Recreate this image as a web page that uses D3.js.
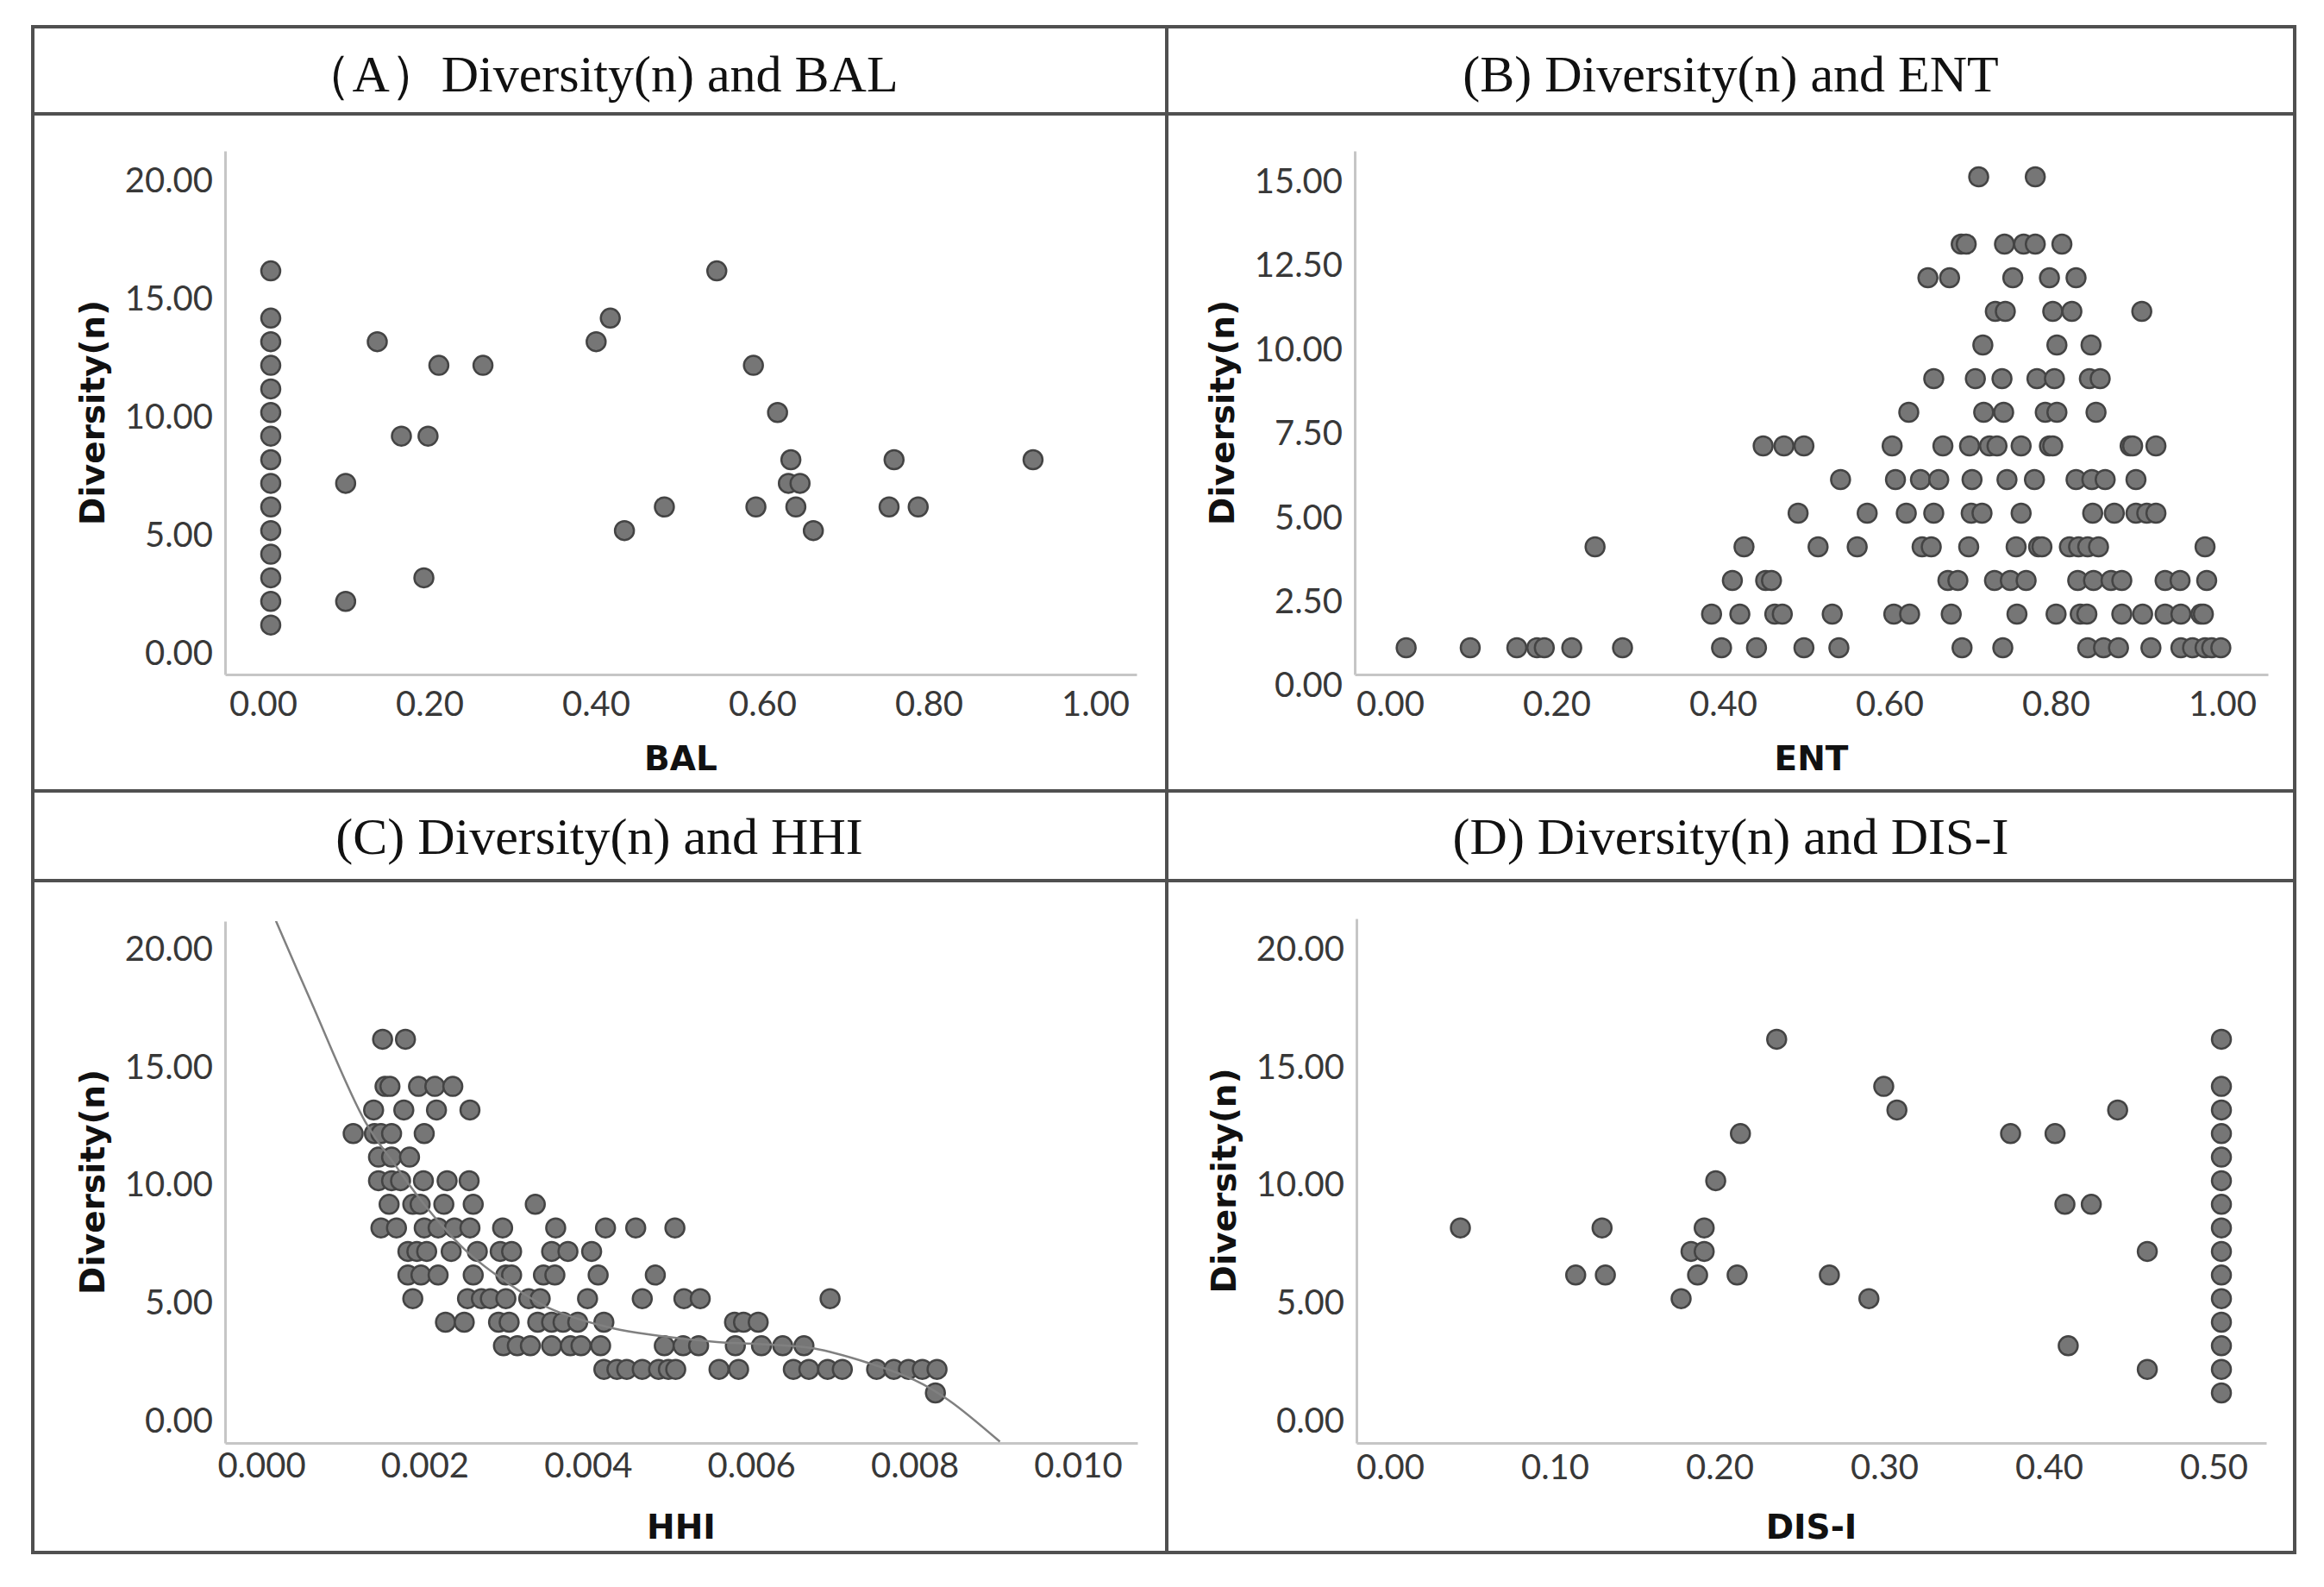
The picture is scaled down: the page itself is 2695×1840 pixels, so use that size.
<!DOCTYPE html>
<html>
<head>
<meta charset="utf-8">
<script src="https://cdn.jsdelivr.net/npm/d3@7"></script>
<style>
  body { margin: 0; background: #fff; }
</style>
</head>
<body>
<svg id="chart" width="2695" height="1840"></svg>
<script>
// DATA
const titles = ['（A）Diversity(n) and BAL', '(B) Diversity(n) and ENT', '(C) Diversity(n) and HHI', '(D) Diversity(n) and DIS-I'];
const xLabels = ['BAL', 'ENT', 'HHI', 'DIS-I'];
const yLabel = 'Diversity(n)';

const yTicks20 = [0, 5, 10, 15, 20];
const yTicks15 = [0, 2.5, 5, 7.5, 10, 12.5, 15];
const xTicksUnit = [0, 0.2, 0.4, 0.6, 0.8, 1.0];
const xTicksHHI = [0, 0.002, 0.004, 0.006, 0.008, 0.010];
const xTicksDIS = [0, 0.1, 0.2, 0.3, 0.4, 0.5];

const balPoints = [
  [0, 1], [0, 2], [0, 3], [0, 4], [0, 5], [0, 6], [0, 7], [0, 8], [0, 9], [0, 10],
  [0, 11], [0, 12], [0, 13], [0, 14], [0, 16],
  [0.090, 7], [0.090, 2], [0.128, 13], [0.157, 9], [0.189, 9], [0.184, 3], [0.202, 12],
  [0.255, 12], [0.391, 13], [0.408, 14], [0.425, 5], [0.473, 6], [0.536, 16], [0.580, 12],
  [0.609, 10], [0.625, 8], [0.622, 7], [0.636, 7], [0.583, 6], [0.631, 6], [0.652, 5],
  [0.749, 8], [0.743, 6], [0.778, 6], [0.916, 8]
];

const entLevels = [15, 13, 12, 11, 10, 9, 8, 7, 6, 5, 4, 3, 2, 1];
const entValues = [
  [0.698, 0.766],
  [0.677, 0.683, 0.729, 0.752, 0.766, 0.798],
  [0.637, 0.663, 0.739, 0.783, 0.815],
  [0.718, 0.730, 0.787, 0.810, 0.894],
  [0.703, 0.792, 0.833],
  [0.644, 0.694, 0.726, 0.768, 0.789, 0.831, 0.844],
  [0.614, 0.704, 0.728, 0.778, 0.792, 0.839],
  [0.439, 0.464, 0.488, 0.594, 0.655, 0.687, 0.711, 0.720, 0.749, 0.783, 0.787, 0.880, 0.883, 0.911],
  [0.532, 0.598, 0.628, 0.650, 0.690, 0.732, 0.765, 0.815, 0.834, 0.850, 0.887],
  [0.481, 0.564, 0.611, 0.644, 0.689, 0.702, 0.749, 0.835, 0.861, 0.887, 0.900, 0.911],
  [0.237, 0.416, 0.505, 0.552, 0.630, 0.641, 0.686, 0.743, 0.770, 0.774, 0.807, 0.818, 0.829, 0.842, 0.970],
  [0.402, 0.442, 0.449, 0.661, 0.673, 0.717, 0.736, 0.755, 0.817, 0.836, 0.857, 0.870, 0.922, 0.940, 0.972],
  [0.377, 0.411, 0.453, 0.462, 0.522, 0.596, 0.615, 0.665, 0.744, 0.791, 0.820, 0.828, 0.870, 0.895, 0.922, 0.941, 0.965, 0.968],
  [0.010, 0.087, 0.143, 0.167, 0.176, 0.209, 0.270, 0.389, 0.431, 0.488, 0.530, 0.678, 0.727, 0.829, 0.848, 0.866, 0.905, 0.941, 0.955, 0.970, 0.978, 0.989]
];

const hhiLevels = [16, 14, 13, 12, 11, 10, 9, 8, 7, 6, 5, 4, 3, 2, 1];
const hhiValues = [
  [0.00139, 0.00167],
  [0.00142, 0.00148, 0.00183, 0.00203, 0.00225],
  [0.00128, 0.00165, 0.00205, 0.00246],
  [0.00103, 0.00129, 0.00137, 0.00150, 0.00190],
  [0.00134, 0.00150, 0.00172],
  [0.00134, 0.00150, 0.00161, 0.00189, 0.00218, 0.00245],
  [0.00147, 0.00176, 0.00185, 0.00214, 0.00250, 0.00326],
  [0.00137, 0.00156, 0.00190, 0.00207, 0.00227, 0.00246, 0.00286, 0.00351, 0.00412, 0.00449, 0.00497],
  [0.00170, 0.00181, 0.00193, 0.00223, 0.00255, 0.00283, 0.00297, 0.00346, 0.00366, 0.00395],
  [0.00170, 0.00186, 0.00207, 0.00250, 0.00290, 0.00297, 0.00336, 0.00350, 0.00403, 0.00473],
  [0.00176, 0.00243, 0.00260, 0.00271, 0.00290, 0.00318, 0.00332, 0.00390, 0.00457, 0.00508, 0.00528, 0.00687],
  [0.00216, 0.00239, 0.00281, 0.00294, 0.00329, 0.00346, 0.00360, 0.00378, 0.00410, 0.00570, 0.00581, 0.00599],
  [0.00287, 0.00304, 0.00320, 0.00346, 0.00369, 0.00382, 0.00406, 0.00484, 0.00507, 0.00526, 0.00571, 0.00603, 0.00629, 0.00655],
  [0.00410, 0.00426, 0.00438, 0.00457, 0.00477, 0.00489, 0.00498, 0.00551, 0.00575, 0.00642, 0.00661, 0.00684, 0.00702, 0.00744, 0.00765, 0.00783, 0.00800, 0.00818],
  [0.00816]
];

// fit line
const hhiFitX = [0.000084, 0.000507, 0.001175, 0.001563, 0.001914, 0.002408, 0.002936, 0.003429, 0.004208, 0.004736, 0.005487, 0.006146, 0.006666, 0.00733, 0.0079, 0.00832, 0.00895];
const hhiFitY = [21.02, 17.65, 12.52, 10.57, 8.93, 7.04, 5.63, 4.60, 3.74, 3.44, 3.16, 3.05, 2.89, 2.28, 1.55, 0.70, -1.07];

const disPoints = [
  [0.50, 1], [0.50, 2], [0.50, 3], [0.50, 4], [0.50, 5], [0.50, 6], [0.50, 7], [0.50, 8],
  [0.50, 9], [0.50, 10], [0.50, 11], [0.50, 12], [0.50, 13], [0.50, 14], [0.50, 16],
  [0.038, 8], [0.124, 8], [0.108, 6], [0.126, 6], [0.172, 5], [0.178, 7], [0.186, 7],
  [0.186, 8], [0.182, 6], [0.193, 10], [0.208, 12], [0.206, 6], [0.230, 16], [0.262, 6],
  [0.286, 5], [0.295, 14], [0.303, 13], [0.372, 12], [0.399, 12], [0.405, 9], [0.421, 9],
  [0.407, 3], [0.437, 13], [0.455, 7], [0.455, 2]
];

function fromRows(levels, values) {
  const out = [];
  levels.forEach((lv, i) => values[i].forEach((v) => out.push([v, lv])));
  return out;
}

//SETUP
const svg = d3.select('#chart');
svg.append('rect').attr('width', 2695).attr('height', 1840).attr('fill', '#fff');

const panels = [
  { title: titles[0], xLabel: xLabels[0], points: balPoints, left: 261, right: 1318, top: 175, bottom: 782,
    xDomain: [-0.0549, 1.0404], yDomain: [-1.096, 21.08], xTicks: xTicksUnit, yTicks: yTicks20, xFmt: '.2f',
    cx: 695, titleY: 106, labelPad: 20, xTitleY: 893 },
  { title: titles[1], xLabel: xLabels[1], points: fromRows(entLevels, entValues), left: 1571, right: 2630, top: 175, bottom: 782,
    xDomain: [-0.0518, 1.0456], yDomain: [0.205, 15.77], xTicks: xTicksUnit, yTicks: yTicks15, xFmt: '.2f',
    cx: 2007, titleY: 106, labelPad: 20, xTitleY: 893 },
  { title: titles[2], xLabel: xLabels[2], points: fromRows(hhiLevels, hhiValues), left: 261, right: 1319, top: 1068, bottom: 1673,
    xDomain: [-0.000539, 0.010634], yDomain: [-1.123, 21.01], xTicks: xTicksHHI, yTicks: yTicks20, xFmt: '.3f',
    cx: 695, titleY: 990, labelPad: 12, xTitleY: 1784, fit: true },
  { title: titles[3], xLabel: xLabels[3], points: disPoints, left: 1573, right: 2628, top: 1065, bottom: 1673,
    xDomain: [-0.0251, 0.5272], yDomain: [-1.123, 21.12], xTicks: xTicksDIS, yTicks: yTicks20, xFmt: '.2f',
    cx: 2007, titleY: 990, labelPad: 14, xTitleY: 1784 }
];

panels.forEach((p, i) => drawPanel(p, i));

//FRAME
const frame = svg.append('g').attr('fill', 'none').attr('stroke', '#505050').attr('stroke-width', 4);
frame.append('rect').attr('x', 38).attr('y', 31).attr('width', 2623).attr('height', 1769);
frame.append('line').attr('x1', 1353).attr('x2', 1353).attr('y1', 31).attr('y2', 1800);
[132, 917, 1021].forEach((yy) => {
  frame.append('line').attr('x1', 38).attr('x2', 2661).attr('y1', yy).attr('y2', yy);
});

function drawPanel(p, i) {
  const g = svg.append('g');

  //SCALE AND AXIS
  const xScale = d3.scaleLinear().domain(p.xDomain).range([p.left, p.right]);
  const yScale = d3.scaleLinear().domain(p.yDomain).range([p.bottom, p.top]);

  const xAxis = d3.axisBottom(xScale)
    .tickValues(p.xTicks)
    .tickSize(0)
    .tickPadding(p.labelPad)
    .tickFormat(d3.format(p.xFmt));
  const xg = g.append('g').attr('transform', `translate(0,${p.bottom})`).call(xAxis);
  xg.selectAll('text').attr('dx', -9);

  const yAxis = d3.axisLeft(yScale)
    .tickValues(p.yTicks)
    .tickSize(0)
    .tickPadding(14)
    .tickFormat(d3.format('.2f'));
  const yg = g.append('g').attr('transform', `translate(${p.left},0)`).call(yAxis);
  yg.selectAll('text').attr('dy', '0.45em');

  [xg, yg].forEach((ax) => {
    ax.select('.domain').attr('stroke', '#c6c6c6').attr('stroke-width', 3);
    ax.selectAll('text')
      .style('font-family', 'Lato, "Open Sans", sans-serif')
      .style('font-size', '40px')
      .attr('fill', '#383838');
  });

  //POINTS
  g.append('g')
    .selectAll('circle')
    .data(p.points)
    .enter()
    .append('circle')
    .attr('cx', (d) => xScale(d[0]))
    .attr('cy', (d) => yScale(d[1]))
    .attr('r', 11)
    .attr('fill', '#767676')
    .attr('stroke', '#444')
    .attr('stroke-width', 2.5);

  //FIT LINE
  if (p.fit) {
    svg.append('clipPath').attr('id', 'clip' + i)
      .append('rect')
      .attr('x', p.left).attr('y', p.top)
      .attr('width', p.right - p.left).attr('height', p.bottom - p.top);
    const fit = d3.line()
      .x((d) => xScale(d[0]))
      .y((d) => yScale(d[1]))
      .curve(d3.curveCatmullRom);
    g.append('path')
      .attr('clip-path', `url(#clip${i})`)
      .attr('d', fit(hhiFitX.map((v, k) => [v, hhiFitY[k]])))
      .attr('fill', 'none')
      .attr('stroke', '#808080')
      .attr('stroke-width', 2.5);
  }

  //TEXT
  g.append('text')
    .attr('x', p.cx)
    .attr('y', p.titleY)
    .style('text-anchor', 'middle')
    .style('font-family', '"Liberation Serif", "Times New Roman", serif')
    .style('font-size', '60px')
    .attr('fill', '#111')
    .text(p.title);

  g.append('text')
    .attr('x', (p.left + p.right) / 2)
    .attr('y', p.xTitleY)
    .style('text-anchor', 'middle')
    .style('font-family', '"DejaVu Sans", sans-serif')
    .style('font-weight', 'bold')
    .style('font-size', '39px')
    .attr('fill', '#111')
    .text(p.xLabel);

  g.append('text')
    .attr('transform', `translate(${p.left - 154},${(p.top + p.bottom) / 2}) rotate(-90)`)
    .attr('dy', '0.36em')
    .style('text-anchor', 'middle')
    .style('font-family', '"DejaVu Sans", sans-serif')
    .style('font-weight', 'bold')
    .style('font-size', '39px')
    .attr('fill', '#111')
    .text(yLabel);
}
</script>
</body>
</html>
